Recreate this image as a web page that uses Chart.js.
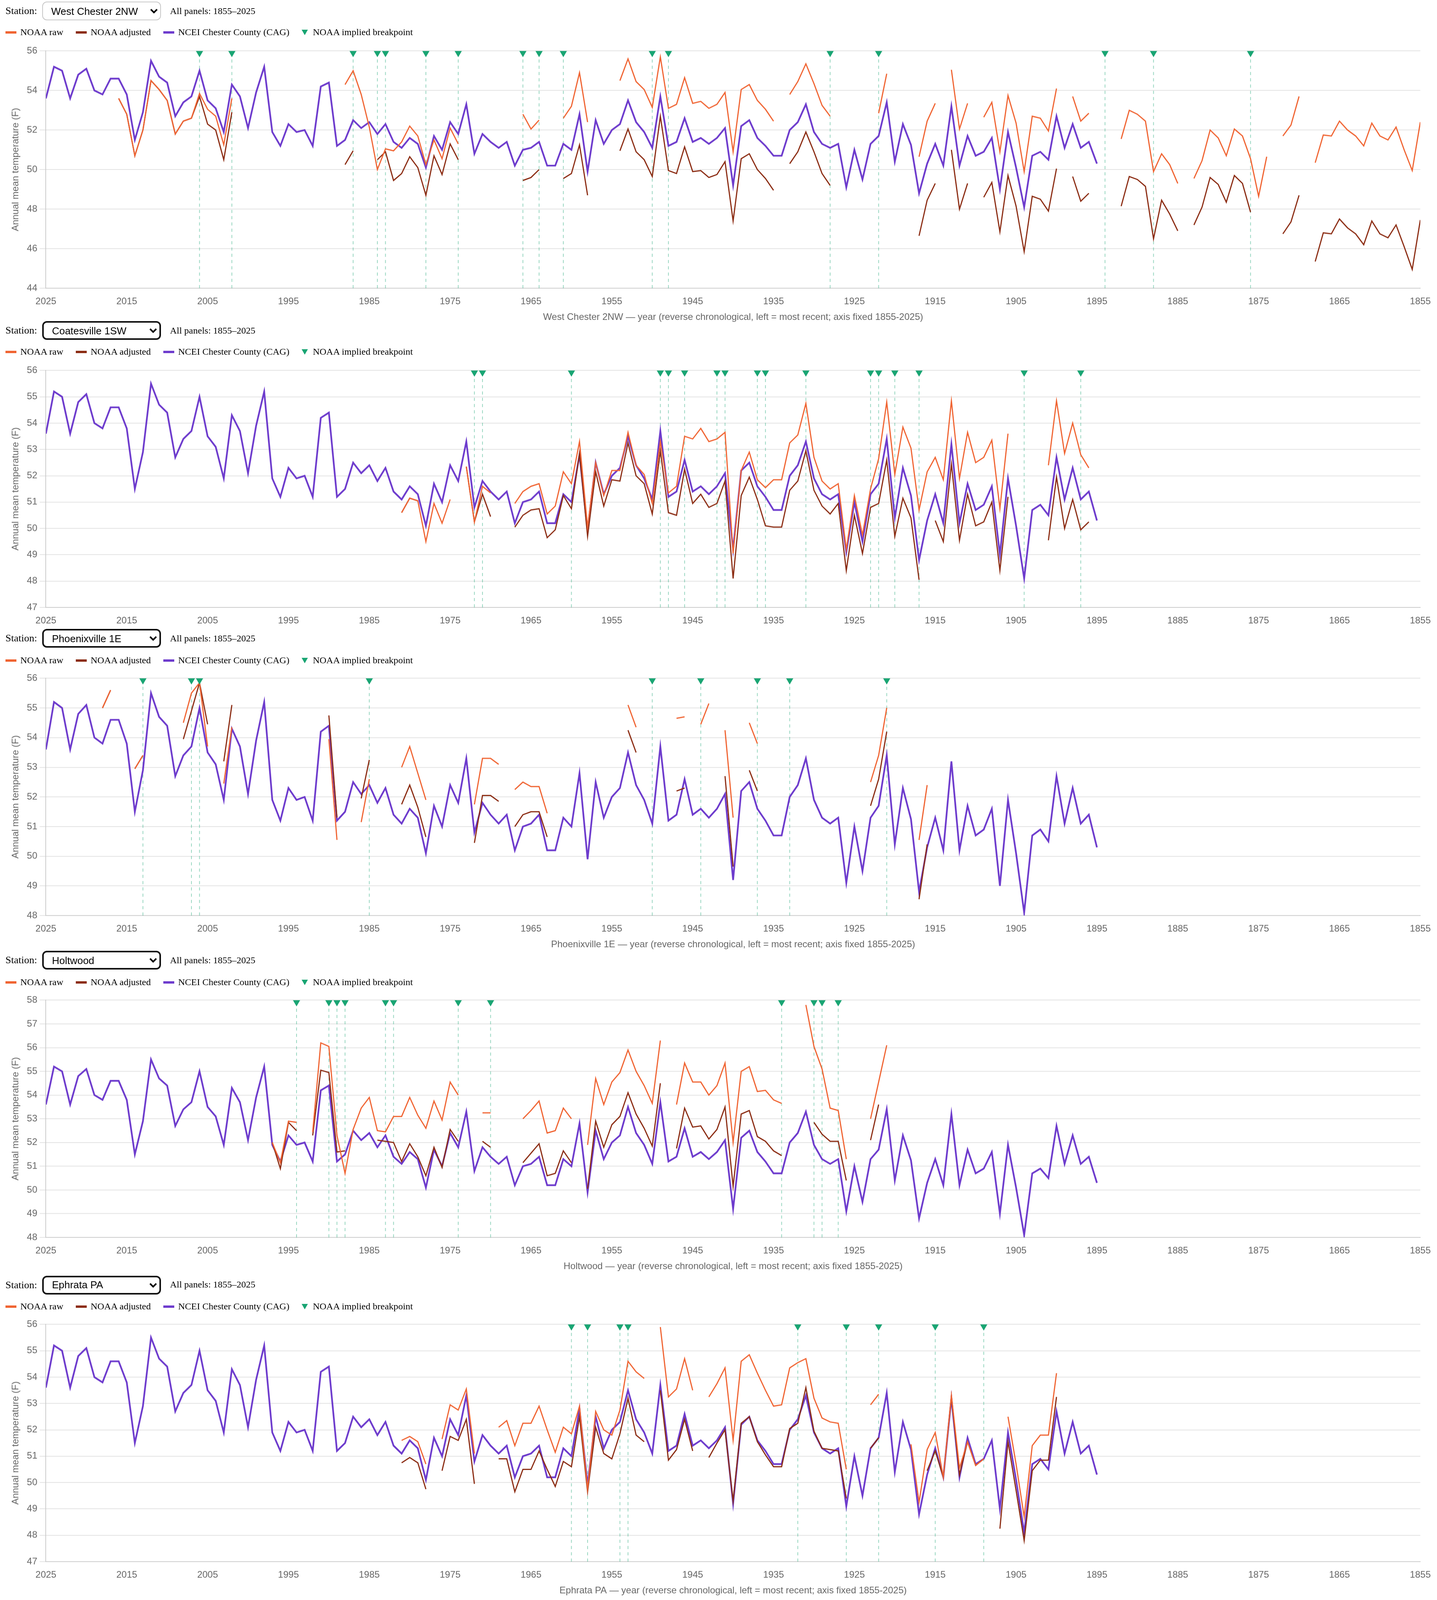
<!DOCTYPE html>
<html>
<head>
<meta charset="utf-8">
<title>NOAA raw vs adjusted vs NCEI Chester County</title>
<script src="https://cdn.jsdelivr.net/npm/chart.js@4.4.8/dist/chart.umd.min.js"></script>
<style>
  html { overflow: hidden; }
  html, body { margin: 0; padding: 0; background: #fff; }
  #outer { width: 3678px; overflow: hidden; position: relative; }
  #page { width: 1839px; transform: scale(2); transform-origin: 0 0;
          font-family: 'Liberation Serif', 'Times New Roman', serif; color: #000; }
  .hdr { display: flex; align-items: center; padding-left: 7px; font-size: 13px; position: relative; z-index: 1; }
  .hdr select { margin-left: 7px; width: 152px; height: 24px; font: 13px Arial, 'Liberation Sans', sans-serif;
                color: #000; background: #fff; border-radius: 6px; padding: 0 6px; border: 2px solid #111; }
  .hdr select.first { border: 1px solid #c8c8c8; }
  .note { margin-left: 11px; font-size: 12px; }
  .legend { display: flex; align-items: center; padding-left: 7px; font-size: 12px; }
  .item { display: flex; align-items: center; margin-right: 16px; }
  .sw { width: 14px; height: 3px; margin-right: 5px; }
  .tri { width: 0; height: 0; border-left: 4px solid transparent; border-right: 4px solid transparent;
         border-top: 7px solid #19a573; margin-right: 6px; }
  .cv { position: relative; width: 1834px; }
</style>
</head>
<body>
<div id="outer"><div id="page"></div></div>
<script>
// ---- data ----
const STATIONS = ["West Chester 2NW", "Coatesville 1SW", "Phoenixville 1E", "Holtwood", "Ephrata PA"];
const YEAR_TICKS = [2025, 2015, 2005, 1995, 1985, 1975, 1965, 1955, 1945, 1935, 1925, 1915, 1905, 1895, 1885, 1875, 1865, 1855];

// NCEI Chester County CAG, 2025 back to 1895
const CAG_FIRST_YEAR = 2025;
const CAG = [
  53.6, 55.2, 55.0, 53.6, 54.8, 55.1, 54.0, 53.8, 54.6, 54.6,
  53.8, 51.5, 52.9, 55.5, 54.7, 54.4, 52.7, 53.4, 53.7, 55.0,
  53.5, 53.1, 51.9, 54.3, 53.7, 52.1, 53.9, 55.2, 51.9, 51.2,
  52.3, 51.9, 52.0, 51.2, 54.2, 54.4, 51.2, 51.5, 52.5, 52.1,
  52.4, 51.8, 52.3, 51.4, 51.1, 51.6, 51.3, 50.1, 51.7, 51.0,
  52.4, 51.8, 53.3, 50.8, 51.8, 51.4, 51.1, 51.4, 50.2, 51.0,
  51.1, 51.4, 50.2, 50.2, 51.3, 51.0, 52.8, 49.9, 52.5, 51.3,
  52.0, 52.3, 53.5, 52.4, 51.9, 51.1, 53.7, 51.2, 51.4, 52.6,
  51.4, 51.6, 51.3, 51.6, 52.1, 49.2, 52.2, 52.5, 51.6, 51.2,
  50.7, 50.7, 52.0, 52.4, 53.3, 51.9, 51.3, 51.1, 51.3, 49.1,
  51.0, 49.5, 51.3, 51.7, 53.4, 50.4, 52.3, 51.25, 48.8, 50.3,
  51.3, 50.2, 53.2, 50.2, 51.7, 50.7, 50.9, 51.6, 49.0, 51.9,
  50.1, 48.1, 50.7, 50.9, 50.5, 52.7, 51.1, 52.3, 51.1, 51.4,
  50.3
];

// station runs: [most recent year of the run, values going back one year at a time]
const WC_RAW = [
  [2016, [53.6, 52.8, 50.7, 52.0, 54.5, 54.05, 53.5, 51.8, 52.45, 52.6, 53.85, 53.05, 52.7, 51.25, 53.6]],
  [1988, [54.3, 55.0, 53.8, 52.15, 50.0, 51.05, 50.95, 51.4, 52.2, 51.7, 50.25, 51.5, 50.55, 52.1, 51.3]],
  [1966, [52.8, 52.05, 52.5]],
  [1961, [52.6, 53.2, 54.9, 52.4]],
  [1954, [54.5, 55.6, 54.45, 54.05, 53.15, 55.7, 53.1, 53.3, 54.65, 53.35, 53.45, 53.1, 53.3, 53.9, 50.9, 54.05, 54.3, 53.5, 53.05, 52.45]],
  [1933, [53.8, 54.45, 55.35, 54.35, 53.25, 52.7]],
  [1922, [52.85, 54.85]],
  [1917, [50.65, 52.45, 53.35]],
  [1913, [55.05, 52.05, 53.35]],
  [1909, [52.65, 53.4, 50.9, 53.75, 52.35, 49.9, 52.7, 52.6, 51.95, 54.1]],
  [1898, [53.7, 52.45, 52.85]],
  [1892, [51.55, 53.0, 52.8, 52.45, 49.9, 50.8, 50.25, 49.3]],
  [1883, [49.55, 50.45, 52.0, 51.6, 50.7, 52.05, 51.7, 50.55, 48.65, 50.65]],
  [1872, [51.7, 52.25, 53.7]],
  [1868, [50.35, 51.75, 51.7, 52.45, 52.0, 51.7, 51.2, 52.35, 51.7, 51.5, 52.15, 51.0, 49.95, 52.4]]
];
const WC_ADJ = [
  [2016, [53.6, 52.8, 50.7, 52.0, 54.5, 54.05, 53.5, 51.8, 52.45, 52.6, 53.7, 52.3, 52.0, 50.5, 52.9]],
  [1988, [50.25, 50.95]],
  [1984, [50.5, 50.9, 49.45, 49.8, 50.65, 50.1, 48.7, 50.7, 49.75, 51.3, 50.5]],
  [1966, [49.45, 49.6, 50.0]],
  [1961, [49.55, 49.8, 51.25, 48.7]],
  [1954, [50.95, 52.05, 50.9, 50.5, 49.65, 52.7, 49.95, 49.8, 51.15, 49.9, 49.95, 49.6, 49.75, 50.4, 47.4, 50.55, 50.8, 50.0, 49.55, 48.95]],
  [1933, [50.3, 50.9, 51.9, 50.9, 49.8, 49.2]],
  [1917, [46.65, 48.45, 49.3]],
  [1913, [51.0, 48.0, 49.3]],
  [1909, [48.6, 49.35, 46.85, 49.7, 48.15, 45.85, 48.65, 48.5, 47.9, 50.05]],
  [1898, [49.65, 48.4, 48.8]],
  [1892, [48.15, 49.65, 49.5, 49.15, 46.5, 48.45, 47.75, 46.9]],
  [1883, [47.2, 48.1, 49.6, 49.25, 48.35, 49.7, 49.3, 47.85]],
  [1872, [46.75, 47.35, 48.7]],
  [1868, [45.35, 46.8, 46.75, 47.5, 47.05, 46.75, 46.2, 47.4, 46.75, 46.55, 47.2, 46.1, 44.95, 47.45]]
];
const WC_BREAKS = [2006, 2002, 1987, 1984, 1983, 1978, 1974, 1966, 1964, 1961, 1950, 1948, 1928, 1922, 1894, 1888, 1876];

const CO_RAW = [
  [1981, [50.6, 51.15, 51.05, 49.5, 50.95, 50.2, 51.1]],
  [1973, [52.35, 50.25, 51.6, 51.35]],
  [1967, [50.95, 51.4, 51.6, 51.7, 50.55, 50.85, 52.15, 51.7, 53.3, 50.05,
          52.5, 51.25, 52.2, 52.2, 53.65, 52.4, 52.05, 50.95, 53.3, 51.35,
          51.6, 53.5, 53.4, 53.8, 53.3, 53.4, 53.65, 49.05, 52.2, 52.9,
          51.85, 51.55, 51.85, 51.85, 53.25, 53.55, 54.75, 52.7, 51.8, 51.5,
          51.7, 49.2, 51.25, 49.75, 51.5, 52.65, 54.8, 52.05, 53.85, 53.05,
          50.7, 52.15, 52.7, 51.85, 54.85, 51.9, 53.65, 52.5, 52.7, 53.35,
          50.75, 53.6]],
  [1901, [52.4, 54.85, 52.85, 54.0, 52.8, 52.3]]
];
const CO_ADJ = [
  [1981, [50.6, 51.15, 51.05]],
  [1973, [52.35, 50.25, 51.3, 50.45]],
  [1967, [50.05, 50.5, 50.7, 50.75, 49.65, 49.95, 51.25, 50.75, 52.85, 49.7,
          52.15, 50.85, 51.85, 51.8, 53.25, 52.0, 51.7, 50.55, 52.95, 50.6,
          50.5, 52.25, 50.95, 51.3, 50.8, 50.95, 51.8, 48.1, 51.25, 51.95,
          51.1, 50.1, 50.05, 50.05, 51.45, 51.8, 52.95, 51.45, 50.85, 50.55,
          50.95, 48.4, 50.5, 49.05, 50.8, 50.95, 52.6, 49.7, 51.15, 50.4,
          48.05]],
  [1915, [50.3, 49.5, 52.45, 49.55, 51.3, 50.1, 50.25, 51.0, 48.4, 51.2]],
  [1901, [49.55, 51.95, 50.0, 51.1, 49.95, 50.25]]
];
const CO_BREAKS = [1972, 1971, 1960, 1949, 1948, 1946, 1942, 1941, 1937, 1936, 1931, 1923, 1922, 1920, 1917, 1904, 1897];

const PH_RAW = [
  [2018, [55.0, 55.6]],
  [2014, [52.95, 53.4]],
  [2008, [54.5, 55.5, 55.85, 53.7]],
  [2003, [52.45, 54.35]],
  [1990, [53.95, 50.55]],
  [1986, [51.15, 52.6]],
  [1981, [53.0, 53.7, 52.8, 51.9]],
  [1972, [51.75, 53.3, 53.3, 53.1]],
  [1967, [52.25, 52.5, 52.35, 52.35, 51.45]],
  [1953, [55.1, 54.35]],
  [1947, [54.65, 54.7]],
  [1944, [54.45, 55.15]],
  [1941, [54.25, 51.3]],
  [1938, [54.5, 53.8]],
  [1923, [52.5, 53.4, 55.0]],
  [1917, [50.55, 52.4]]
];
const PH_ADJ = [
  [2018, [55.0, 55.6]],
  [2014, [52.95, 53.4]],
  [2008, [53.95, 54.9, 55.85, 54.45]],
  [2003, [53.2, 55.1]],
  [1990, [54.75, 51.3]],
  [1986, [51.95, 53.25]],
  [1981, [51.75, 52.4, 51.65, 50.65]],
  [1972, [50.45, 52.05, 52.05, 51.85]],
  [1967, [51.0, 51.4, 51.5, 51.5, 50.65]],
  [1953, [54.25, 53.5]],
  [1947, [52.2, 52.3]],
  [1941, [52.7, 49.65]],
  [1938, [52.9, 52.2]],
  [1923, [51.7, 52.6, 54.2]],
  [1917, [48.55, 50.4]]
];
const PH_BREAKS = [2013, 2007, 2006, 1985, 1950, 1944, 1937, 1933, 1921];

const HO_RAW = [
  [1997, [52.0, 51.15, 52.9, 52.85]],
  [1992, [52.45, 56.2, 56.05, 52.3, 50.7, 52.55, 53.45, 53.9, 52.5, 52.45, 53.1, 53.1, 53.9, 53.15, 52.6, 53.75, 52.95, 54.55, 54.0]],
  [1971, [53.25, 53.25]],
  [1966, [53.0, 53.35, 53.75, 52.4, 52.5, 53.45, 53.0]],
  [1958, [51.9, 54.7, 53.6, 54.55, 54.95, 55.9, 55.0, 54.4, 53.65, 56.3]],
  [1947, [53.6, 55.35, 54.55, 54.55, 54.0, 54.4, 55.35, 52.0, 55.0, 55.2, 54.15, 54.2, 53.8, 53.65]],
  [1931, [57.8, 56.05, 55.1, 53.45, 53.35, 51.3]],
  [1923, [53.0, 54.55, 56.1]]
];
const HO_ADJ = [
  [1997, [52.0, 50.9, 52.85, 52.5]],
  [1992, [52.3, 55.05, 54.95, 51.6, 51.65]],
  [1984, [52.1, 52.05, 52.0, 51.2, 51.95, 51.4, 50.6, 51.8, 50.95, 52.55, 52.05]],
  [1971, [52.05, 51.8]],
  [1966, [51.15, 51.55, 51.95, 50.6, 50.7, 51.65, 51.15]],
  [1958, [50.05, 52.9, 51.8, 52.75, 53.1, 54.1, 53.2, 52.6, 51.85, 54.5]],
  [1947, [51.75, 53.45, 52.65, 52.7, 52.15, 52.55, 53.5, 50.15, 53.2, 53.35, 52.25, 52.05, 51.65, 51.45]],
  [1930, [52.85, 52.35, 52.05, 52.05, 50.4]],
  [1923, [52.1, 53.6]]
];
const HO_BREAKS = [1994, 1990, 1989, 1988, 1983, 1982, 1974, 1970, 1934, 1930, 1929, 1927];

const EP_RAW = [
  [1981, [51.6, 51.75, 51.55, 50.7]],
  [1976, [51.65, 52.95, 52.75, 53.55, 51.1]],
  [1969, [52.1, 52.35, 51.4, 52.25, 52.25, 52.9, 52.0, 51.15, 52.1, 51.85, 52.9, 49.75, 52.7, 52.0, 51.8, 52.75, 54.6, 54.2, 53.95]],
  [1949, [55.9, 53.25, 53.55, 54.7, 53.5]],
  [1943, [53.25, 53.75, 54.35, 51.6, 54.6, 54.85, 54.15, 53.5, 52.9, 52.95, 54.35, 54.55, 54.7, 53.2, 52.45, 52.3, 52.25, 50.5]],
  [1923, [52.95, 53.35]],
  [1918, [51.45, 49.25, 51.25, 51.9, 50.2, 53.3, 50.55, 51.55, 50.65, 50.9]],
  [1906, [52.5, 50.7, 48.7, 51.4, 51.8, 51.8, 54.15]]
];
const EP_ADJ = [
  [1981, [50.75, 50.95, 50.75, 49.75]],
  [1976, [50.45, 51.75, 51.6, 52.4, 49.95]],
  [1969, [50.9, 50.9, 49.65, 50.5, 50.5, 51.2, 50.5, 49.85, 50.8, 50.6, 52.5, 49.65, 52.1, 51.1, 50.9, 51.85, 53.2, 51.8, 51.55]],
  [1949, [53.5, 50.85, 51.25, 52.4, 51.2]],
  [1943, [50.95, 51.5, 52.0, 49.3, 52.25, 52.5, 51.55, 51.05, 50.6, 50.6, 52.05, 52.25, 53.6, 51.95, 51.3, 51.25, 51.2, 49.4]],
  [1923, [51.3, 51.7]],
  [1916, [50.45, 51.2, 50.2, 53.25, 50.3, 51.55, 50.65, 50.9]],
  [1907, [48.25, 51.55, 49.7, 47.8, 50.45, 50.85, 50.85, 53.25]]
];
const EP_BREAKS = [1960, 1958, 1954, 1953, 1932, 1926, 1922, 1915, 1909];

// y axis [min, max, step] per panel
const Y_RANGES = [[44, 56, 2], [47, 56, 1], [48, 56, 1], [48, 58, 1], [47, 56, 1]];

// ---- styling ----
const RAW_COLOR = '#f06432';
const ADJ_COLOR = '#8c2d14';
const CAG_COLOR = '#6e3ccd';
const BREAK_COLOR = '#19a573';

Chart.defaults.font.family = "Arial, 'Liberation Sans', Helvetica, sans-serif";
Chart.defaults.font.size = 12;
Chart.defaults.color = '#666';

function toPoints(runs) {
  const pts = [];
  runs.forEach(([start, vals], i) => {
    if (i > 0) pts.push({x: start + 0.5, y: null});
    vals.forEach((v, k) => pts.push({x: start - k, y: v}));
  });
  return pts;
}

// fit the whole stack into the visible window height
const VH = window.innerHeight || 4560;
const f = Math.min(1, VH / 4560);
document.getElementById('outer').style.height = VH + 'px';

// h = slot height for the canvas (css px, before fitting); plot area is ~338px of it
const panels = [
  {raw: WC_RAW, adj: WC_ADJ, breaks: WC_BREAKS, title: true, h: 393.7},
  {raw: CO_RAW, adj: CO_ADJ, breaks: CO_BREAKS, title: false, h: 377.4},
  {raw: PH_RAW, adj: PH_ADJ, breaks: PH_BREAKS, title: true, h: 397.2},
  {raw: HO_RAW, adj: HO_ADJ, breaks: HO_BREAKS, title: true, h: 400.7},
  {raw: EP_RAW, adj: EP_ADJ, breaks: EP_BREAKS, title: true, h: 399.2}
];

const page = document.getElementById('page');
const cagPoints = CAG.map((v, i) => ({x: CAG_FIRST_YEAR - i, y: v}));

panels.forEach((p, idx) => {
  const name = STATIONS[idx];
  const [lo, hi, step] = Y_RANGES[idx];

  const tickLen = 8 * f;
  const axisH = tickLen + 20.4 + (p.title ? 20.8 : 0);
  const slot = p.h * f;
  let padBottom = slot - 348.5 * f - axisH;
  // let the axis text hang into the next panel's top margin instead of being clipped
  const extra = padBottom < 2 ? 2 - padBottom : 0;
  padBottom += extra;

  const panel = document.createElement('div');
  const opts = STATIONS.map(s => '<option' + (s === name ? ' selected' : '') + '>' + s + '</option>').join('');
  panel.innerHTML =
    '<div class="hdr" style="height:' + (32 * f) + 'px">Station:<select' + (idx === 0 ? ' class="first"' : '') + '>' + opts + '</select>' +
    '<span class="note">All panels: 1855–2025</span></div>' +
    '<div class="legend" style="height:' + (29.5 * f) + 'px">' +
      '<span class="item"><span class="sw" style="background:' + RAW_COLOR + '"></span>NOAA raw</span>' +
      '<span class="item"><span class="sw" style="background:' + ADJ_COLOR + '"></span>NOAA adjusted</span>' +
      '<span class="item"><span class="sw" style="background:' + CAG_COLOR + '"></span>NCEI Chester County (CAG)</span>' +
      '<span class="item"><span class="tri"></span>NOAA implied breakpoint</span>' +
    '</div>';
  const box = document.createElement('div');
  box.className = 'cv';
  box.style.height = (slot + extra) + 'px';
  box.style.marginBottom = (-extra) + 'px';
  const canvas = document.createElement('canvas');
  box.appendChild(canvas);
  panel.appendChild(box);
  page.appendChild(panel);

  const guides = [];
  p.breaks.forEach(yr => guides.push({x: yr, y: lo}, {x: yr, y: hi}, {x: yr, y: null}));
  const markY = hi - (hi - lo) * 0.0082;
  const marks = p.breaks.map(yr => ({x: yr, y: markY}));

  new Chart(canvas, {
    type: 'line',
    data: {
      datasets: [
        {label: 'NOAA implied breakpoint', data: marks, showLine: false, pointStyle: 'triangle',
         rotation: 180, pointRadius: 5.5, pointHoverRadius: 5.5, pointBackgroundColor: BREAK_COLOR,
         pointBorderColor: BREAK_COLOR, pointBorderWidth: 0, order: 0},
        {label: 'NOAA raw', data: toPoints(p.raw), borderColor: RAW_COLOR, backgroundColor: RAW_COLOR,
         borderWidth: 1.5, pointRadius: 0, spanGaps: false, order: 1},
        {label: 'NOAA adjusted', data: toPoints(p.adj), borderColor: ADJ_COLOR, backgroundColor: ADJ_COLOR,
         borderWidth: 1.5, pointRadius: 0, spanGaps: false, order: 2},
        {label: 'NCEI Chester County (CAG)', data: cagPoints, borderColor: CAG_COLOR, backgroundColor: CAG_COLOR,
         borderWidth: 2.2, pointRadius: 0, order: 3},
        {label: 'guides', data: guides, borderColor: 'rgba(25,165,115,0.45)', borderWidth: 1,
         borderDash: [4, 4], pointRadius: 0, spanGaps: false, order: 4}
      ]
    },
    options: {
      devicePixelRatio: 2,
      responsive: true,
      maintainAspectRatio: false,
      animation: false,
      layout: {padding: {left: 9, right: 0, top: 10 * f, bottom: padBottom}},
      plugins: {legend: {display: false}, tooltip: {enabled: false}},
      scales: {
        x: {
          type: 'linear', reverse: true, min: 1855, max: 2025,
          grid: {display: true, drawOnChartArea: false, drawTicks: true, tickLength: tickLen, tickColor: 'rgba(0,0,0,0)'},
          border: {color: '#ccc'},
          afterBuildTicks: s => { s.ticks = YEAR_TICKS.map(v => ({value: v})); },
          ticks: {padding: 3, autoSkip: false, maxRotation: 0, callback: v => String(v)},
          title: {display: p.title, padding: {top: 2.4, bottom: 4},
                  text: name + ' — year (reverse chronological, left = most recent; axis fixed 1855-2025)'}
        },
        y: {
          min: lo, max: hi,
          ticks: {stepSize: step, padding: 3},
          grid: {color: '#e3e3e3'},
          border: {color: '#ccc'},
          title: {display: true, text: 'Annual mean temperature (F)'}
        }
      }
    }
  });
});
</script>
</body>
</html>
